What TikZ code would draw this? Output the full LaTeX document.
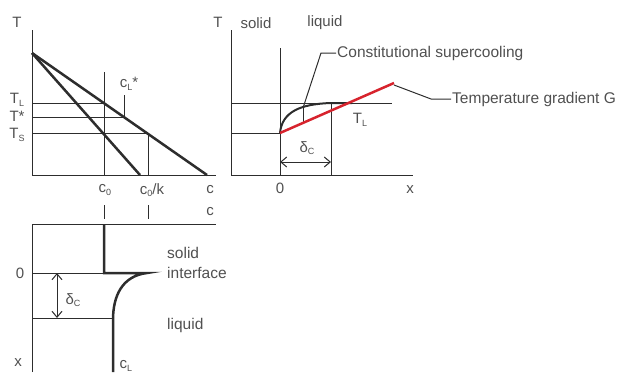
\documentclass[tikz,border=0pt]{standalone}
\usepackage{fontspec}
\setmainfont{Liberation Sans}
\usetikzlibrary{arrows.meta}
\definecolor{linegray}{RGB}{45,45,45}
\definecolor{textgray}{RGB}{80,80,80}
\definecolor{gradred}{RGB}{215,35,45}
\newcommand{\lo}[1]{\raisebox{-0.35ex}{\fontsize{9}{10}\selectfont #1}}
\begin{document}
\begin{tikzpicture}[x=1pt,y=-1pt,
  thinln/.style={linegray,line width=1pt},
  thickln/.style={linegray,line width=2.5pt},
  lbl/.style={textgray,inner sep=1pt,font=\fontsize{15}{17}\selectfont},
  note/.style={textgray,inner sep=1pt,anchor=west,font=\fontsize{15.5}{18}\selectfont},
  dim/.style={thinln,{Straight Barb[length=6pt,width=10pt]}-{Straight Barb[length=6pt,width=10pt]}}]
  \useasboundingbox (0,0) rectangle (631,372);
  % phase diagram
  \draw[thinln] (32,30) -- (32,175) -- (216,175);
  \coordinate (top) at (32,53);
  \draw[thinln] (104,72) -- (104,175);
  \draw[thinln] (148,133) -- (148,175);
  \draw[thinln] (32,103) -- (104,103);
  \draw[thinln] (32,117) -- (124,117) -- (124,95);
  \draw[thinln] (32,133) -- (148,133);
  \draw[thickln] (top) -- (207,175);
  \draw[thickln] (top) -- (140,175);
  \node[lbl] (Ta) at (17,22) {T};
  \node[lbl] (TL) at (17,100) {T\lo{L}};
  \node[lbl] (Tst) at (17,116) {T*};
  \node[lbl] (TS) at (17,135) {T\lo{S}};
  \node[lbl] (cL) at (129,84) {c\lo{L}*};
  \node[lbl] (c0) at (105,190) {c\lo{0}};
  \node[lbl] (c0k) at (152,190) {c\lo{0}/k};
  \node[lbl] (ca) at (210,190) {c};
  % temperature profile
  \draw[thinln] (231,30) -- (231,175) -- (413,175);
  \draw[thinln] (280,48) -- (280,175);
  \draw[thinln] (231,103) -- (392,103);
  \draw[thinln] (231,133) -- (280,133);
  \draw[thinln] (331,103) -- (331,175);
  \draw[thinln] (303,108) -- (303,123);
  \draw[linegray,line width=2pt] (280,133) .. controls (282,112) and (300,104) .. (331,103) -- (352,103);
  \draw[gradred,line width=2.5pt] (280,133) -- (394,83);
  \draw[dim] (280,162) -- (331,162);
  \node[lbl] (Tb) at (218,22) {T};
  \node[lbl] (sol) at (256,23) {solid};
  \node[lbl] (liq) at (325,23) {liquid};
  \node[lbl] (zero) at (280,188) {0};
  \node[lbl] (xa) at (410,190) {x};
  \node[lbl] (TLb) at (360,120) {T\lo{L}};
  \node[lbl] (dl) at (307,148) {δ\lo{C}};
  \node[note] (csc) at (336,53) {Constitutional supercooling};
  \node[note] (tg) at (451,99) {Temperature gradient G};
  \draw[thinln] (303,108) -- (321,53) -- (csc.west);
  \draw[thinln] (394,85) -- (431,99) -- (tg.west);
  % concentration profile
  \draw[thinln] (104,205) -- (104,219);
  \draw[thinln] (148,205) -- (148,219);
  \node[lbl] (cb) at (210,212) {c};
  \draw[thinln] (32,372) -- (32,224) -- (216,224);
  \draw[thinln] (32,273) -- (104,273);
  \draw[thinln] (32,318) -- (113,318);
  \draw[thickln,miter limit=20] (104,224) -- (104,273) -- (147,273) .. controls (122,276) and (113,296) .. (113,320) -- (113,372);
  \draw[dim] (57,273) -- (57,318);
  \node[lbl] (dx) at (73,300) {δ\lo{C}};
  \node[lbl] (zx) at (20,273) {0};
  \node[lbl] (xx) at (18,363) {x};
  \node[lbl] (cLb) at (126,366) {c\lo{L}};
  \node[note] (sb) at (166,253) {solid};
  \node[note] (ib) at (166,273) {interface};
  \node[note] (lb) at (166,325) {liquid};
\end{tikzpicture}
\end{document}
